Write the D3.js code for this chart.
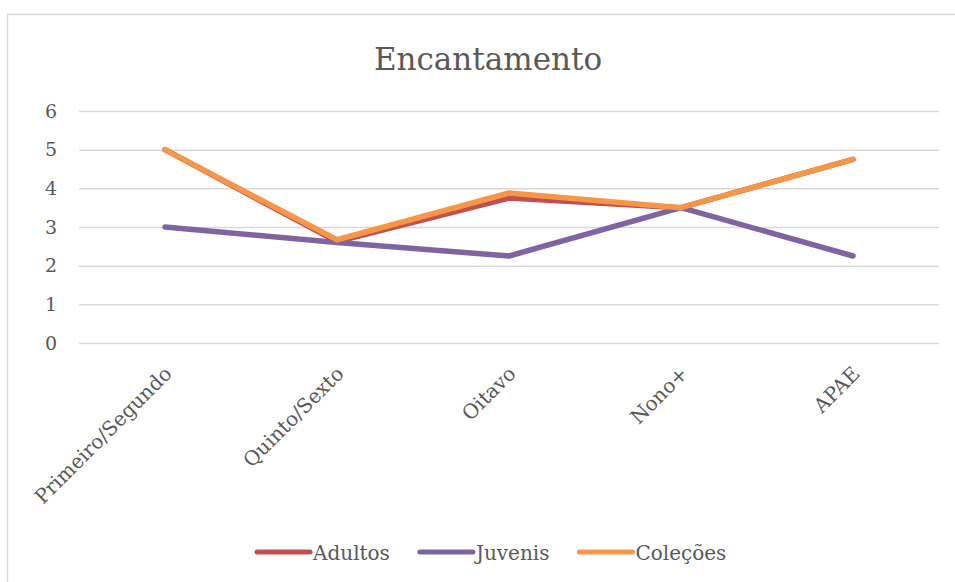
<!DOCTYPE html>
<html>
<head>
<meta charset="utf-8">
<script src="https://cdn.jsdelivr.net/npm/d3@7"></script>
<style>
  body { margin: 0; background: #fff; }
  svg text { font-family: "DejaVu Serif", serif; fill: #595959; }
</style>
</head>
<body>
<div id="chart"></div>
<script>
// data
const categories = ["Primeiro/Segundo", "Quinto/Sexto", "Oitavo", "Nono+", "APAE"];
const seriesNames = ["Adultos", "Juvenis", "Coleções"];
const adultos = [5, 2.62, 3.75, 3.5, 4.75];
const juvenis = [3, 2.6, 2.25, 3.5, 2.25];
const colecoes = [5, 2.67, 3.88, 3.5, 4.75];
const yTicks = [0, 1, 2, 3, 4, 5, 6];
const colors = ["#C0504D", "#8064A2", "#F79646"];

const series = [adultos, juvenis, colecoes].map((vals, i) => ({
    name: seriesNames[i],
    color: colors[i],
    values: vals.map((v, j) => ({cat: categories[j], value: v}))
}));

const W = 955, H = 582;
const margin = {top: 111, right: 16, bottom: 239, left: 79};

const svg = d3.select("#chart").append("svg")
    .attr("width", W)
    .attr("height", H);

// chart border
svg.append("rect")
    .attr("x", 7.5).attr("y", 14.5)
    .attr("width", 970).attr("height", 600)
    .attr("fill", "none")
    .attr("stroke", "#d9d9d9")
    .attr("stroke-width", 1.5);

// title
svg.append("text")
    .attr("x", 488)
    .attr("y", 70)
    .attr("text-anchor", "middle")
    .style("font-size", "31px")
    .text("Encantamento");

const x = d3.scaleBand()
    .domain(categories)
    .range([margin.left, W - margin.right]);

const y = d3.scaleLinear()
    .domain([0, 6])
    .range([H - margin.bottom, margin.top]);

// gridlines + y labels
const yAxis = d3.axisLeft(y)
    .tickValues(yTicks)
    .tickSize(-(W - margin.right - margin.left))
    .tickPadding(22)
    .tickFormat(d3.format("d"));

const gy = svg.append("g")
    .attr("transform", "translate(" + margin.left + ",0)")
    .call(yAxis);
gy.select(".domain").remove();
gy.selectAll("line").attr("stroke", "#d9d9d9").attr("stroke-width", 1.5);
gy.selectAll("text")
    .attr("fill", "#595959")
    .style("font-family", "DejaVu Serif")
    .style("font-size", "19px");

// x labels, rotated
const xAxis = d3.axisBottom(x).tickSize(0).tickPadding(0);
const gx = svg.append("g")
    .attr("transform", "translate(0," + (H - margin.bottom) + ")")
    .call(xAxis);
gx.select(".domain").remove();
gx.selectAll("text")
    .attr("fill", "#595959")
    .style("font-family", "DejaVu Serif")
    .style("font-size", "20px")
    .attr("text-anchor", "end")
    .attr("dy", null)
    .attr("y", 0)
    .attr("transform", "translate(8,32) rotate(-45)");

// lines
const line = d3.line()
    .x(d => x(d.cat) + x.bandwidth() / 2)
    .y(d => y(d.value));

svg.append("g").selectAll("path")
    .data(series)
    .join("path")
    .attr("d", d => line(d.values))
    .attr("fill", "none")
    .attr("stroke", d => d.color)
    .attr("stroke-width", 5.5)
    .attr("stroke-linejoin", "round")
    .attr("stroke-linecap", "round");

// legend
const legend = svg.append("g").attr("transform", "translate(0,552)");
let lx = 255;
series.forEach(s => {
    const item = legend.append("g");
    item.append("line")
        .attr("x1", lx + 2).attr("x2", lx + 55)
        .attr("y1", 0).attr("y2", 0)
        .attr("stroke", s.color)
        .attr("stroke-width", 5)
        .attr("stroke-linecap", "round");
    const t = item.append("text")
        .attr("x", lx + 58)
        .attr("y", 8)
        .style("font-size", "20px")
        .text(s.name);
    lx += 58 + t.node().getComputedTextLength() + 28;
});
</script>
</body>
</html>
